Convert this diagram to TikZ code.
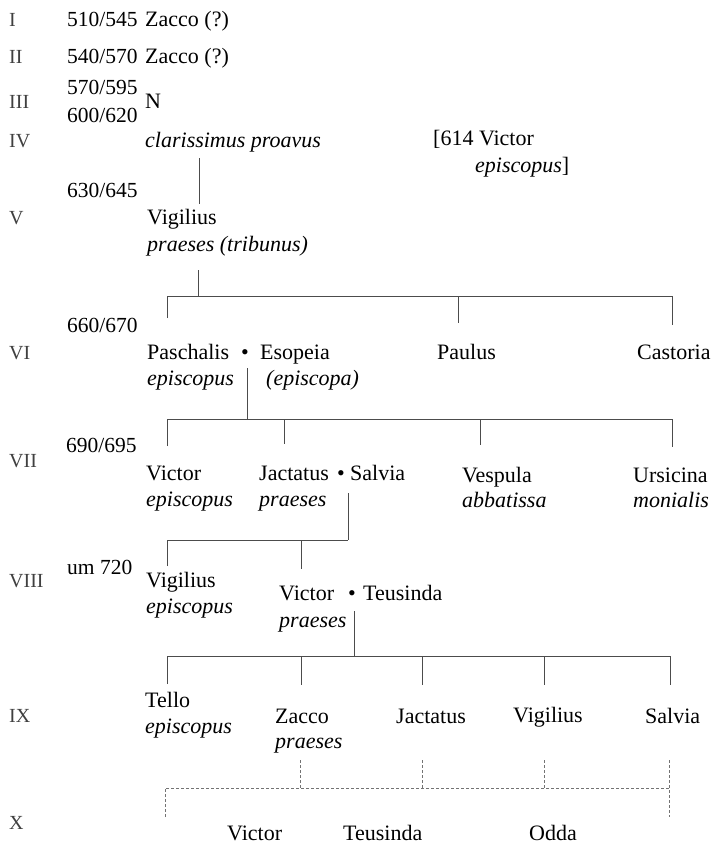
\documentclass[tikz,border=0pt]{standalone}
\usepackage{fontspec}
\setmainfont{Liberation Serif}
\usetikzlibrary{positioning}

\tikzset{
	gen/.style={anchor=base west, inner sep=0pt, text=black!75, font=\fontsize{20}{24}\selectfont},
	date/.style={anchor=base west, inner sep=0pt, font=\fontsize{21.5}{26}\selectfont},
	who/.style={anchor=base west, inner xsep=0pt, inner ysep=5pt, font=\fontsize{22}{26}\selectfont},
	ttl/.style={who, font=\fontsize{22}{26}\selectfont\itshape},
	dot/.style={anchor=base, inner sep=0pt, font=\fontsize{22}{26}\selectfont},
	line/.style={draw=black!70, line width=0.8pt},
	dline/.style={line, draw=black!55, dash pattern=on 3pt off 2pt},
}

\begin{document}
\begin{tikzpicture}[x=1pt, y=-1pt]
	\useasboundingbox (0,0) rectangle (723,846);

	% generations
	\foreach \g/\y in {I/26, II/63, III/108, IV/147, V/224, VI/359, VII/467, VIII/587, IX/722, X/829}
		\node[gen] (gen \g) at (9,\y) {\g};

	% dates
	\node[date] (d1) at (67,26)  {510/545};
	\node[date] (d2) at (67,63)  {540/570};
	\node[date] (d3) at (67,94)  {570/595};
	\node[date] (d3b) at (67,122) {600/620};
	\node[date] (d5) at (67,197) {630/645};
	\node[date] (d6) at (67,332) {660/670};
	\node[date] (d7) at (66,452) {690/695};
	\node[date] (d8) at (67,574) {um 720};

	% I - IV
	\node[who] (zacco1)  at (145,26)  {Zacco (?)};
	\node[who] (zacco2)  at (145,63)  {Zacco (?)};
	\node[who] (n3)      at (145,108) {N};
	\node[ttl] (proavus) at (145,147) {clarissimus proavus};
	\node[who] (victor614) at (433,145) {[614 Victor};
	\node[ttl] (victor614t) at (475,172) {episcopus\upshape]};

	% V
	\node[who] (vig5)  at (147,224) {Vigilius};
	\node[ttl] (vig5t) at ([yshift=-27pt]vig5.base west) {praeses (tribunus)};

	% VI
	\node[who] (pasch)  at (147,359) {Paschalis};
	\node[ttl] (pascht) at ([yshift=-26pt]pasch.base west) {episcopus};
	\node[dot] (b6)     at (245,359) {•};
	\node[who] (esop)   at (260,359) {Esopeia};
	\node[ttl] (esopt)  at (266,385) {(episcopa)};
	\node[who] (paulus) at (437,359) {Paulus};
	\node[who] (castoria) at (637,359) {Castoria};

	% VII
	\node[who] (victor7)  at (146,480) {Victor};
	\node[ttl] (victor7t) at ([yshift=-26pt]victor7.base west) {episcopus};
	\node[who] (jact7)    at (259,480) {Jactatus};
	\node[ttl] (jact7t)   at ([yshift=-26pt]jact7.base west) {praeses};
	\node[dot] (b7)       at (341,480) {•};
	\node[who] (salvia7)  at (350,480) {Salvia};
	\node[who] (vespula)  at (462,482) {Vespula};
	\node[ttl] (vespulat) at ([yshift=-25pt]vespula.base west) {abbatissa};
	\node[who] (ursicina) at (633,482) {Ursicina};
	\node[ttl] (ursicinat) at ([yshift=-25pt]ursicina.base west) {monialis};

	% VIII
	\node[who] (vig8)    at (146,587) {Vigilius};
	\node[ttl] (vig8t)   at ([yshift=-26pt]vig8.base west) {episcopus};
	\node[who] (victor8) at (279,600) {Victor};
	\node[ttl] (victor8t) at ([yshift=-27pt]victor8.base west) {praeses};
	\node[dot] (b8)      at (352,600) {•};
	\node[who] (teus8)   at (363,600) {Teusinda};

	% IX
	\node[who] (tello)   at (145,707) {Tello};
	\node[ttl] (tellot)  at ([yshift=-26pt]tello.base west) {episcopus};
	\node[who] (zacco9)  at (275,723) {Zacco};
	\node[ttl] (zacco9t) at ([yshift=-25pt]zacco9.base west) {praeses};
	\node[who] (jact9)   at (396,723) {Jactatus};
	\node[who] (vig9)    at (513,722) {Vigilius};
	\node[who] (salvia9) at (645,723) {Salvia};

	% X
	\node[who, inner ysep=0pt] (victor10) at (227,840) {Victor};
	\node[who, inner ysep=0pt] (teus10)   at (343,840) {Teusinda};
	\node[who, inner ysep=0pt] (odda)     at (529,840) {Odda};

	% lines
	\coordinate (k4) at (199,158);
	\draw[line] (k4) -- (k4 |- vig5.north);

	\coordinate (k5) at (198,296);
	\draw[line] (198,270) -- (k5);
	\draw[line] (167,318) |- (672,296) -- (672,325);
	\draw[line] (458,296) -- (458,323);

	\coordinate (k6) at (247,419);
	\draw[line] (247,368) -- (k6);
	\draw[line] (167,446) |- (672,419) -- (672,447);
	\foreach \x/\e in {284/444, 480/445}
		\draw[line] (\x,419) -- (\x,\e);

	\coordinate (k7) at (348,540);
	\draw[line] (348,493) -- (k7);
	\draw[line] (167,566) |- (k7);
	\draw[line] (301,540) -- (301,569);

	\coordinate (k8) at (354,656);
	\draw[line] (354,611) -- (k8);
	\draw[line] (167,684) |- (670,656) -- (670,685);
	\foreach \x in {301, 422, 544}
		\draw[line] (\x,656) -- (\x,685);

	% uncertain descent
	\draw[dline] (165,817) |- (669,788);
	\draw[dline] (669,760) -- (669,817);
	\foreach \x in {300, 422, 544}
		\draw[dline] (\x,760) -- (\x,788);
\end{tikzpicture}
\end{document}
